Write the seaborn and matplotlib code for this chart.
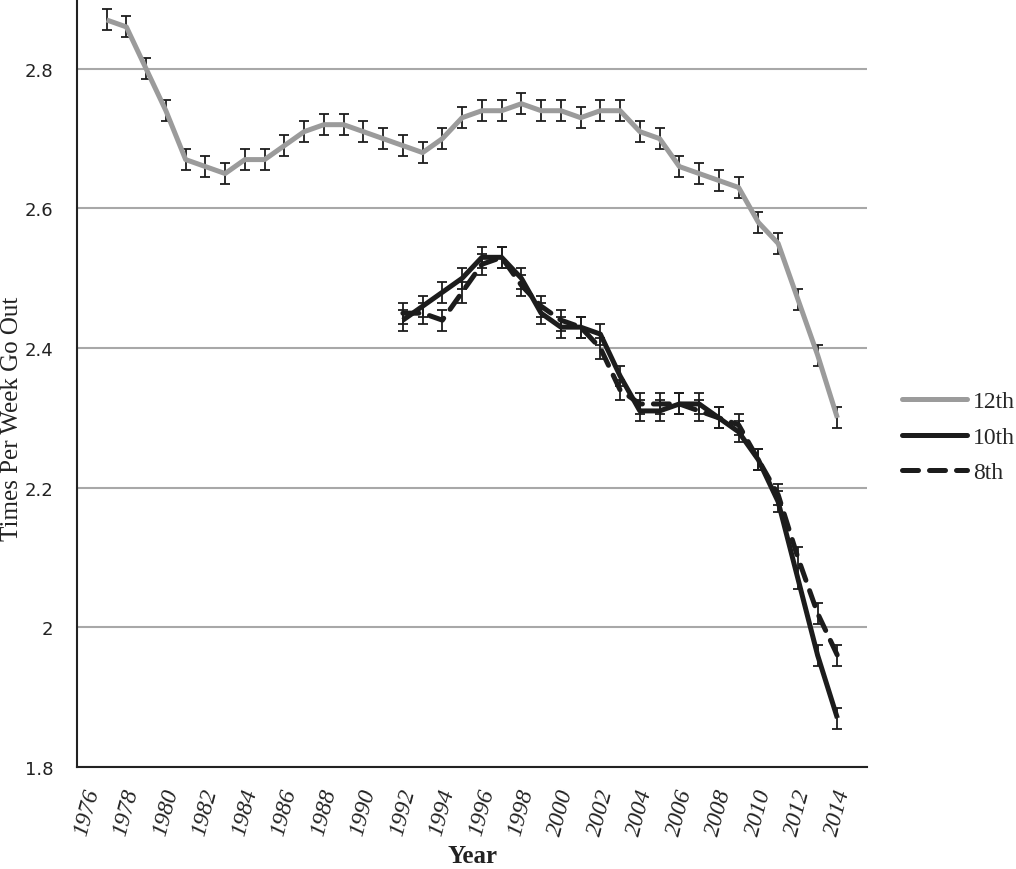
import numpy as np
import pandas as pd
import matplotlib
matplotlib.use('Agg')
import matplotlib.pyplot as plt
from matplotlib.lines import Line2D
from matplotlib.ticker import FixedLocator, FuncFormatter
import seaborn as sns

# Anos e médias de saídas por semana
anos_12 = list(range(1977, 2015))
grade_12 = [2.87, 2.86, 2.80, 2.74, 2.67, 2.66, 2.65, 2.67, 2.67, 2.69,
            2.71, 2.72, 2.72, 2.71, 2.70, 2.69, 2.68, 2.70, 2.73, 2.74,
            2.74, 2.75, 2.74, 2.74, 2.73, 2.74, 2.74, 2.71, 2.70, 2.66,
            2.65, 2.64, 2.63, 2.58, 2.55, 2.47, 2.39, 2.30]

anos_10_8 = list(range(1992, 2015))
grade_10 = [2.44, 2.46, 2.48, 2.50, 2.53, 2.53, 2.50, 2.45, 2.43, 2.43,
            2.42, 2.36, 2.31, 2.31, 2.32, 2.32, 2.30, 2.28, 2.24, 2.18,
            2.07, 1.96, 1.87]
grade_8 = [2.45, 2.45, 2.44, 2.48, 2.52, 2.53, 2.49, 2.46, 2.44, 2.43,
           2.40, 2.34, 2.32, 2.32, 2.32, 2.31, 2.30, 2.29, 2.24, 2.19,
           2.10, 2.02, 1.96]

# meia-largura das barras de erro
erro_12 = 0.015
erro_10 = 0.015
erro_8 = 0.015

series = ['12th', '10th', '8th']
rotulos_x = list(range(1976, 2015, 2))
rotulos_y = [1.8, 2.0, 2.2, 2.4, 2.6, 2.8]

df = pd.concat([
    pd.DataFrame({'ano': anos_12, 'valor': grade_12, 'serie': '12th'}),
    pd.DataFrame({'ano': anos_10_8, 'valor': grade_10, 'serie': '10th'}),
    pd.DataFrame({'ano': anos_10_8, 'valor': grade_8, 'serie': '8th'}),
])

sns.set_style('white')
plt.rcParams['font.family'] = ['Liberation Serif', 'DejaVu Serif']

cinza = '#9b9b9b'
preto = '#1c1c1c'
cores = {'12th': cinza, '10th': preto, '8th': preto}
tracos = {'12th': '', '10th': '', '8th': (3.2, 2.2)}

fig = plt.figure(figsize=(10.16, 8.7), dpi=100)
ax = fig.add_axes([77 / 1016, 1 - 768 / 870, 790 / 1016, 768 / 870])

# barras de erro por baixo das linhas
for anos, vals, err in [(anos_12, grade_12, erro_12), (anos_10_8, grade_10, erro_10),
                        (anos_10_8, grade_8, erro_8)]:
    ax.errorbar(anos, vals, yerr=err, fmt='none', ecolor=preto, elinewidth=1.3,
                capsize=3.9, capthick=1.3, zorder=2)

sns.lineplot(data=df, x='ano', y='valor', hue='serie', style='serie', hue_order=series,
             style_order=series, palette=cores, dashes=tracos, linewidth=3.6,
             errorbar=None, ax=ax, zorder=3)
for linha in ax.get_lines():
    linha.set_dash_capstyle('round')
    linha.set_solid_capstyle('butt')
ax.get_legend().remove()

ax.set_xlim(1975.5, 2015.5)
ax.set_ylim(1.8, 2.9)
ax.set_xlabel('')
ax.set_ylabel('')

ax.xaxis.set_major_locator(FixedLocator(rotulos_x))
ax.xaxis.set_minor_locator(FixedLocator(np.arange(1975.5, 2016, 5)))
ax.set_xticklabels([str(a) for a in rotulos_x], rotation=75, ha='center', va='top',
                   fontsize=17, fontstyle='italic', color='#222222')
ax.tick_params(axis='x', which='major', length=0, pad=14)
ax.tick_params(axis='x', which='minor', length=7, width=1.5, color='#222222', direction='out')

ax.yaxis.set_major_locator(FixedLocator(rotulos_y))
ax.yaxis.set_major_formatter(FuncFormatter(lambda v, p: f'{v:g}'))
ax.tick_params(axis='y', length=6, width=1.5, color='#222222', direction='out', pad=11,
               labelsize=13, labelcolor='#222222')
for lbl in ax.get_yticklabels():
    lbl.set_family('DejaVu Sans')

ax.grid(axis='y', color='#a8a8a8', linewidth=1.5)
ax.grid(axis='x', visible=False)
ax.set_axisbelow(True)
for lado in ['top', 'right']:
    ax.spines[lado].set_visible(False)
for lado in ['left', 'bottom']:
    ax.spines[lado].set_color('#222222')
    ax.spines[lado].set_linewidth(1.5)

fig.text(12 / 1016, 1 - 419 / 870, 'Times Per Week Go Out', rotation=90, ha='center',
         va='center', fontsize=18, color='#222222')
fig.text(472 / 1016, 1 - 857 / 870, 'Year', ha='center', va='center', fontsize=18,
         fontweight='bold', color='#222222')

handles = [Line2D([], [], color=cinza, lw=3.6),
           Line2D([], [], color=preto, lw=3.6),
           Line2D([], [], color=preto, lw=3.6, dashes=(3.2, 2.2), dash_capstyle='round')]
fig.legend(handles, series, loc='center left', bbox_to_anchor=(902 / 1016, 1 - 438 / 870),
           frameon=False, fontsize=17, handlelength=2.75, handletextpad=0.25,
           labelspacing=0.6, borderpad=0, borderaxespad=0)

fig.savefig('out.png', dpi=100, facecolor='white')
